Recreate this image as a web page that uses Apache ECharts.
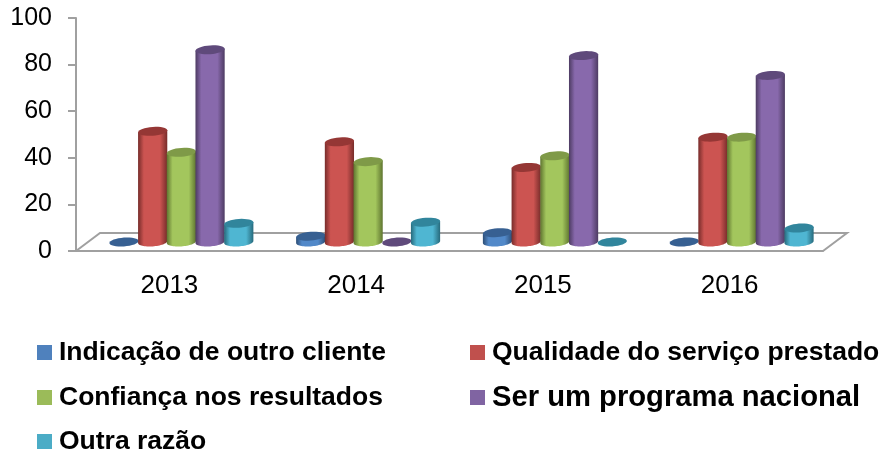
<!DOCTYPE html>
<html lang="en">
<head>
    <meta charset="UTF-8" />
    <title>Document</title>
    <script src="https://cdn.jsdelivr.net/npm/echarts@6/dist/echarts.min.js"></script>
    <style>
        html, body { margin: 0; padding: 0; background: #fff; }
    </style>
</head>
<body>
    <div id="main" style="width: 882px; height: 452px"></div>
    <script>
        var categories = ["2013", "2014", "2015", "2016"];
        var indicacao = [0, 2.5, 4, 0];
        var qualidade = [47.5, 43, 32, 45];
        var confianca = [38.5, 34.5, 37, 45];
        var programa = [82.5, 0, 80, 71.5];
        var outra = [8, 8.5, 0, 6];
        var yTicks = [0, 20, 40, 60, 80, 100];

        var names = [
            "Indicação de outro cliente",
            "Qualidade do serviço prestado",
            "Confiança nos resultados",
            "Ser um programa nacional",
            "Outra razão",
        ];
        var values = [indicacao, qualidade, confianca, programa, outra];

        var mainColors = ["#4f81bd", "#c0504d", "#9bbb59", "#8064a2", "#4bacc6"];
        var lightColors = ["#5289c9", "#cc5451", "#a3c65d", "#8869ac", "#4fb6d2"];
        var edgeColors = ["#2c4d75", "#772c2a", "#5f7530", "#4d3b62", "#276a7c"];
        var topColors = ["#376092", "#953735", "#7f9a48", "#5f4a7b", "#31859c"];

        // profundidade do "piso" em px
        var depthX = 24;
        var depthY = 18;
        var barStep = 28.7;
        var rx = 14.6;
        var ry = 4.4;
        var tilt = -0.07;

        function ellipsePoints(cx, cy, from, to) {
            var pts = [];
            for (var i = 0; i <= 32; i++) {
                var t = from + ((to - from) * i) / 32;
                var dx = rx * Math.cos(t);
                pts.push([cx + dx, cy + ry * Math.sin(t) + tilt * dx]);
            }
            return pts;
        }

        function renderCylinder(seriesIdx) {
            return function (params, api) {
                var top = api.coord([api.value(0), api.value(1)]);
                var base = api.coord([api.value(0), 0]);
                var cx = base[0] + depthX / 2 + (seriesIdx - 2) * barStep;
                var baseY = base[1] - depthY / 2;
                var topY = top[1] - depthY / 2;
                var children = [];
                if (api.value(1) > 0) {
                    // metade de baixo da elipse + lados ate o topo
                    var body = ellipsePoints(cx, baseY, Math.PI, 0);
                    body.push([cx + rx, topY + tilt * rx]);
                    body.push([cx - rx, topY - tilt * rx]);
                    children.push({
                        type: "polygon",
                        shape: { points: body },
                        style: {
                            fill: new echarts.graphic.LinearGradient(0, 0, 1, 0, [
                                { offset: 0, color: edgeColors[seriesIdx] },
                                { offset: 0.2, color: lightColors[seriesIdx] },
                                { offset: 0.75, color: lightColors[seriesIdx] },
                                { offset: 1, color: edgeColors[seriesIdx] },
                            ]),
                        },
                    });
                }
                children.push({
                    type: "polygon",
                    shape: { points: ellipsePoints(cx, topY, 0, Math.PI * 2) },
                    style: { fill: topColors[seriesIdx] },
                });
                return { type: "group", children: children };
            };
        }

        // piso em perspectiva, preso ao grid
        function renderFloor(params) {
            var g = params.coordSys;
            var y0 = g.y + g.height;
            return {
                type: "polyline",
                shape: {
                    points: [
                        [g.x, y0],
                        [g.x + depthX, y0 - depthY],
                        [g.x + g.width + depthX, y0 - depthY],
                        [g.x + g.width, y0],
                    ],
                },
                style: { fill: "none", stroke: "#a0a0a0", lineWidth: 2 },
            };
        }

        var series = [
            {
                type: "custom",
                name: "piso",
                renderItem: renderFloor,
                clip: false,
                silent: true,
                data: [[categories[0], 0]],
                z: 1,
            },
        ];
        names.forEach(function (name, s) {
            series.push({
                type: "custom",
                name: name,
                renderItem: renderCylinder(s),
                clip: false,
                encode: { x: 0, y: 1 },
                itemStyle: { color: mainColors[s] },
                data: categories.map(function (c, i) {
                    return [c, values[s][i]];
                }),
                z: 2 + s,
            });
        });

        var legendPos = [
            { left: 37, top: 339, size: 26.5 },
            { left: 470, top: 339, size: 26.5 },
            { left: 37, top: 384, size: 26.5 },
            { left: 470, top: 383, size: 29.2 },
            { left: 37, top: 428, size: 26.5 },
        ];

        var mCharts = echarts.init(document.getElementById("main"));
        var option = {
            animation: false,
            backgroundColor: "#fff",
            grid: { left: 76, top: 18, width: 747, height: 233 },
            legend: names.map(function (name, i) {
                return {
                    data: [name],
                    left: legendPos[i].left,
                    top: legendPos[i].top,
                    icon: "rect",
                    itemWidth: 15,
                    itemHeight: 15,
                    itemGap: 0,
                    padding: 0,
                    selectedMode: false,
                    textStyle: {
                        fontFamily: "Liberation Sans",
                        fontWeight: "bold",
                        fontSize: legendPos[i].size,
                        color: "#000",
                        padding: [2, 0, 0, 2],
                    },
                };
            }),
            xAxis: {
                type: "category",
                data: categories,
                axisLine: { lineStyle: { color: "#a0a0a0", width: 2 } },
                axisTick: { length: 7, alignWithLabel: false, lineStyle: { color: "#a0a0a0", width: 2 } },
                axisLabel: {
                    margin: 22,
                    fontFamily: "Liberation Sans",
                    fontSize: 26,
                    color: "#000",
                },
            },
            yAxis: {
                type: "value",
                min: yTicks[0],
                max: yTicks[yTicks.length - 1],
                interval: yTicks[1] - yTicks[0],
                splitLine: { show: false },
                axisLine: { show: true, lineStyle: { color: "#a0a0a0", width: 2 } },
                axisTick: { show: true, length: 8, lineStyle: { color: "#a0a0a0", width: 2 } },
                axisLabel: {
                    margin: 24,
                    fontFamily: "Liberation Sans",
                    fontSize: 25,
                    color: "#000",
                    padding: [10, 0, 0, 0],
                },
            },
            series: series,
        };
        mCharts.setOption(option);
    </script>
</body>
</html>
